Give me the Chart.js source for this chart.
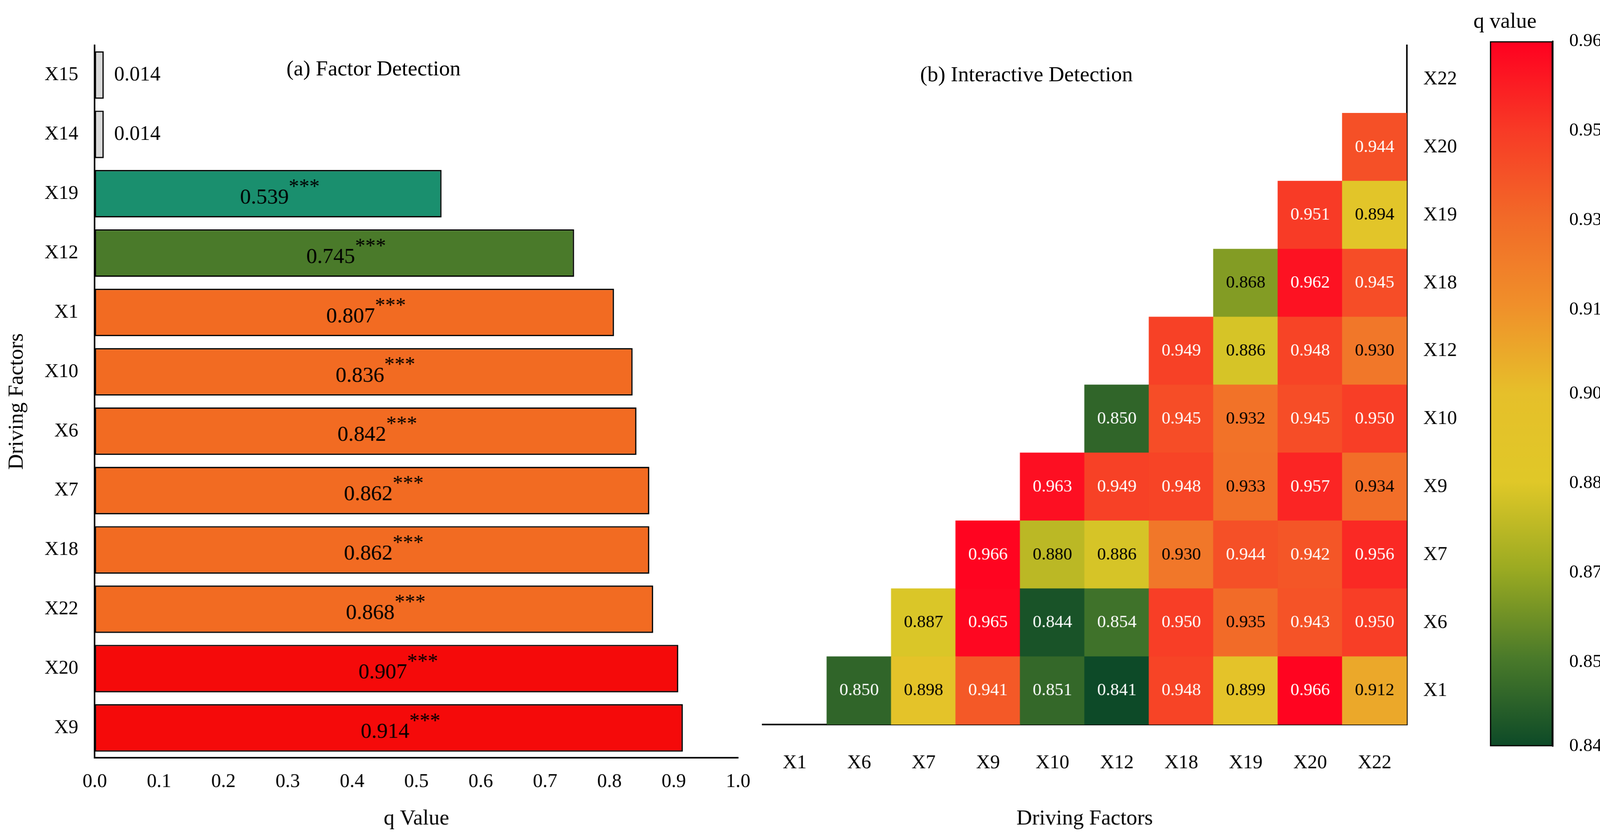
<!DOCTYPE html>
<html><head><meta charset="utf-8">
<script src="https://cdn.jsdelivr.net/npm/chart.js@4.4.0/dist/chart.umd.min.js"></script>
<style>
html,body{margin:0;padding:0;background:#fff;overflow:hidden}
#wrap{position:absolute;left:0;top:0;width:1568px;height:811px;transform:scale(2.63776);transform-origin:0 0}
canvas{position:absolute}
.t{position:absolute;font-family:"Liberation Serif";font-size:21px;color:#000;white-space:nowrap}
</style></head><body>
<div id="wrap">
<canvas id="c1" width="740" height="811" style="left:0;top:0"></canvas>
<canvas id="c2" width="720" height="811" style="left:700px;top:0"></canvas>
<canvas id="c3" width="160" height="811" style="left:1408px;top:0"></canvas>
<div class="t" style="left:278px;top:54px">(a) Factor Detection</div>
<div class="t" style="left:893px;top:60px">(b) Interactive Detection</div>
<div class="t" style="left:1430px;top:8px">q value</div>
</div>
<script>
const factorNames = ["X15","X14","X19","X12","X1","X10","X6","X7","X18","X22","X20","X9"];
const factorValues = [0.014,0.014,0.539,0.745,0.807,0.836,0.842,0.862,0.862,0.868,0.907,0.914];
const factorSig = ["","","***","***","***","***","***","***","***","***","***","***"];
const factorColors = ["#d9d9d9","#d9d9d9","#1a8f6e","#4a7a2a","#f26b22","#f26b22","#f26b22","#f26b22","#f26b22","#f26b22","#f50a0a","#f50a0a"];
const xTicks = [0,0.1,0.2,0.3,0.4,0.5,0.6,0.7,0.8,0.9,1.0];

const hmCols = ["X1","X6","X7","X9","X10","X12","X18","X19","X20","X22"];
const hmRows = ["X1","X6","X7","X9","X10","X12","X18","X19","X20","X22"];
// rows bottom-to-top; values per column (null = empty)
const rowX1  = [null,0.850,0.898,0.941,0.851,0.841,0.948,0.899,0.966,0.912];
const rowX6  = [null,null,0.887,0.965,0.844,0.854,0.950,0.935,0.943,0.950];
const rowX7  = [null,null,null,0.966,0.880,0.886,0.930,0.944,0.942,0.956];
const rowX9  = [null,null,null,null,0.963,0.949,0.948,0.933,0.957,0.934];
const rowX10 = [null,null,null,null,null,0.850,0.945,0.932,0.945,0.950];
const rowX12 = [null,null,null,null,null,null,0.949,0.886,0.948,0.930];
const rowX18 = [null,null,null,null,null,null,null,0.868,0.962,0.945];
const rowX19 = [null,null,null,null,null,null,null,null,0.951,0.894];
const rowX20 = [null,null,null,null,null,null,null,null,null,0.944];
const rowX22 = [null,null,null,null,null,null,null,null,null,null];
const hmData = [rowX1,rowX6,rowX7,rowX9,rowX10,rowX12,rowX18,rowX19,rowX20,rowX22];
const cbTicks = [0.841,0.856,0.872,0.888,0.904,0.919,0.935,0.951,0.967];
const cbStops = ["#0d4a28","#4a7a2a","#9aaa22","#e0c828","#e6c02a","#f0902a","#f26a28","#f83a26","#ff0020"];

const S = 2.63776;
Chart.defaults.font.family = "Liberation Serif";
Chart.defaults.font.size = 19;
Chart.defaults.color = "#000";
Chart.defaults.animation = false;
Chart.defaults.devicePixelRatio = S;

function hex(h){return [parseInt(h.slice(1,3),16),parseInt(h.slice(3,5),16),parseInt(h.slice(5,7),16)];}
function cmap(v){
  const lo=cbTicks[0],hi=cbTicks[cbTicks.length-1];
  let t=(v-lo)/(hi-lo)*(cbStops.length-1); t=Math.max(0,Math.min(cbStops.length-1,t));
  const i=Math.min(Math.floor(t),cbStops.length-2), f=t-i;
  const a=hex(cbStops[i]),b=hex(cbStops[i+1]);
  return `rgb(${a.map((x,k)=>Math.round(x+(b[k]-x)*f)).join(",")})`;
}

// ---- (a) bar chart
const barLabels = {
  id:"barLabels",
  afterDatasetsDraw(ch){
    const ctx=ch.ctx, meta=ch.getDatasetMeta(0);
    ctx.save(); ctx.fillStyle="#000"; ctx.textBaseline="middle";
    meta.data.forEach((el,i)=>{
      const v=factorValues[i].toFixed(3);
      if(factorSig[i]){
        ctx.font="21px 'Liberation Serif'";
        const cx=(el.base+el.x)/2+20;
        const w=ctx.measureText(v).width;
        ctx.textAlign="right"; ctx.fillText(v,cx,el.y+4);
        ctx.textAlign="left"; ctx.font="20px 'Liberation Serif'"; ctx.fillText(factorSig[i],cx,el.y-6);
      } else {
        ctx.font="20px 'Liberation Serif'"; ctx.textAlign="left";
        ctx.fillText(v,el.x+10,el.y);
      }
    });
    ctx.restore();
  }
};
new Chart(document.getElementById("c1"),{
  type:"bar",
  data:{labels:factorNames,datasets:[{data:factorValues,backgroundColor:factorColors,borderColor:"#000",borderWidth:1.3,borderSkipped:false,barPercentage:0.8,categoryPercentage:1}]},
  options:{
    responsive:false,indexAxis:"y",
    layout:{padding:{top:44,right:24,bottom:0,left:0}},
    plugins:{legend:{display:false},tooltip:{enabled:false}},
    scales:{
      x:{min:0,max:1,afterBuildTicks(a){a.ticks=xTicks.map(v=>({value:v}));},
         ticks:{callback:v=>v.toFixed(1),padding:4},grid:{display:false,drawTicks:true},
         border:{color:"#000",width:1.5},
         title:{display:true,text:"q Value",font:{size:21},padding:{top:8}}},
      y:{grid:{display:false},border:{color:"#000",width:1.5},ticks:{padding:8},
         title:{display:true,text:"Driving Factors",font:{size:21},padding:{bottom:6}}}
    }
  },
  plugins:[barLabels]
});

// ---- (b) heatmap via floating bars
const hmDatasets = hmData.map((row,r)=>({
  data: row.map(v=> v===null?null:[r-0.5,r+0.5]),
  backgroundColor: row.map(v=> v===null?"rgba(0,0,0,0)":cmap(v)),
  borderWidth:0, barPercentage:1, categoryPercentage:1, grouped:false
}));
const hmText = {
  id:"hmText",
  afterDatasetsDraw(ch){
    const ctx=ch.ctx, xs=ch.scales.x, ys=ch.scales.y;
    ctx.save(); ctx.font="17px 'Liberation Serif'"; ctx.textAlign="center"; ctx.textBaseline="middle";
    hmData.forEach((row,r)=>row.forEach((v,c)=>{
      if(v===null) return;
      ctx.fillStyle=(v>=0.86&&v<=0.939)?"#000":"#fff";
      ctx.fillText(v.toFixed(3),xs.getPixelForValue(c),ys.getPixelForValue(r));
    }));
    ctx.restore();
  }
};
new Chart(document.getElementById("c2"),{
  type:"bar",
  data:{labels:hmCols,datasets:hmDatasets},
  options:{
    responsive:false,
    layout:{padding:{top:44,left:40,right:0,bottom:0}},
    plugins:{legend:{display:false},tooltip:{enabled:false}},
    scales:{
      x:{grid:{display:false},border:{color:"#000",width:1.5},ticks:{padding:18},
         title:{display:true,text:"Driving Factors",font:{size:21},padding:{top:12}}},
      y:{position:"right",min:-0.5,max:9.5,
         afterBuildTicks(a){a.ticks=hmRows.map((n,i)=>({value:i}));},
         ticks:{callback:(v)=>hmRows[v],padding:6},
         grid:{display:false,drawTicks:true,tickLength:10,tickColor:"#000"},
         border:{color:"#000",width:1.5}}
    }
  },
  plugins:[hmText]
});

// ---- colorbar
new Chart(document.getElementById("c3"),{
  type:"bar",
  data:{labels:["q"],datasets:[{data:[[cbTicks[0],cbTicks[cbTicks.length-1]]],
    backgroundColor(ctx){
      const ca=ctx.chart.chartArea; if(!ca) return "#f00";
      const g=ctx.chart.ctx.createLinearGradient(0,ca.bottom,0,ca.top);
      cbStops.forEach((c,i)=>g.addColorStop(i/(cbStops.length-1),c));
      return g;
    },
    borderColor:"#000",borderWidth:1.5,borderSkipped:false,barPercentage:1,categoryPercentage:1}]},
  options:{
    responsive:false,
    layout:{padding:{top:40,bottom:87,left:38,right:0}},
    plugins:{legend:{display:false},tooltip:{enabled:false}},
    scales:{
      x:{display:false},
      y:{position:"right",min:cbTicks[0],max:cbTicks[cbTicks.length-1],
         afterBuildTicks(a){a.ticks=cbTicks.map(v=>({value:v}));},
         ticks:{callback:v=>v.toFixed(3),padding:6,font:{size:18}},
         grid:{display:false,drawTicks:true,tickLength:10,tickColor:"#000"},
         border:{color:"#000",width:1.5}}
    }
  }
});
</script>
</body></html>
